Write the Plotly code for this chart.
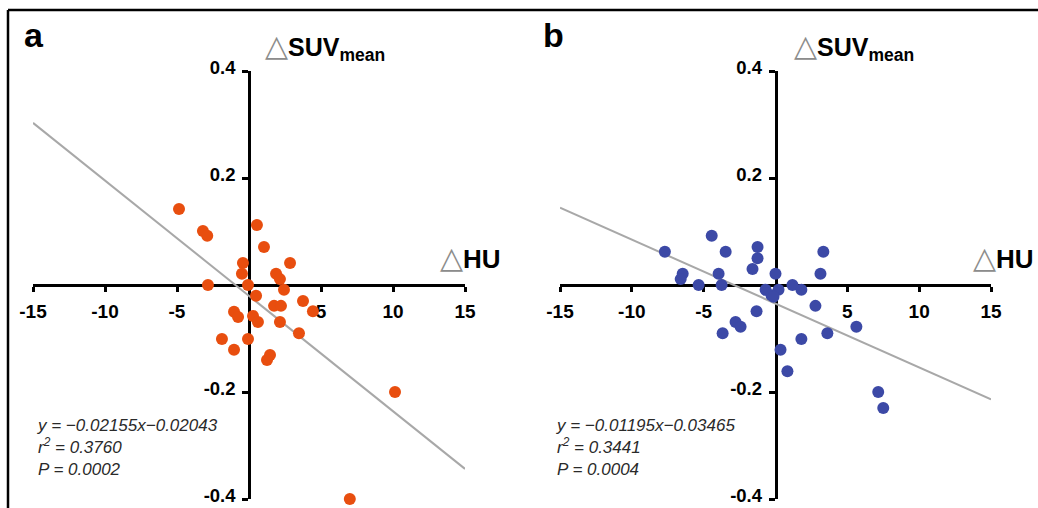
import plotly.graph_objects as go

W, H = 1038, 508

# ---- data ----
a_x = [-4.86, -3.2, -2.9, 0.55, 1.04, -0.42, 2.85, -0.49, 1.88, 2.15, -2.85, -0.07, 2.43, 0.49,
       3.75, 1.74, 2.22, 4.44, -1.04, -0.76, 0.28, 0.62, 2.15, 3.47, -1.88, -0.07, -1.04, 1.46,
       1.25, 10.14, 7.0]
a_y = [0.142, 0.101, 0.092, 0.112, 0.071, 0.041, 0.041, 0.021, 0.021, 0.011, 0.0, 0.0, -0.009,
       -0.02, -0.03, -0.039, -0.039, -0.049, -0.05, -0.06, -0.058, -0.069, -0.069, -0.09, -0.101,
       -0.101, -0.121, -0.131, -0.14, -0.2, -0.4]

b_x = [-4.44, -1.25, -7.7, -3.47, 3.33, -1.25, -1.6, 3.13, 0.0, -6.46, -6.6, -3.96, -5.35, -3.75,
       1.18, 1.8, -0.69, 0.21, -0.28, -0.14, 2.78, -1.32, -2.78, -2.43, 5.63, -3.68, 3.61, 1.8,
       0.35, 0.83, 7.15, 7.5]
b_y = [0.092, 0.071, 0.062, 0.062, 0.062, 0.05, 0.03, 0.021, 0.021, 0.021, 0.011, 0.021, 0.0, 0.0,
       0.0, -0.009, -0.009, -0.009, -0.019, -0.022, -0.039, -0.049, -0.069, -0.078, -0.078, -0.09,
       -0.09, -0.101, -0.121, -0.161, -0.2, -0.23]

fit_x = [-15, 15]
fit_a_y = [0.3030, -0.3437]
fit_b_y = [0.1446, -0.2139]

x_ticks = [-15, -10, -5, 5, 10, 15]
x_tick_text = ["-15", "-10", "-5", "5", "10", "15"]
y_ticks = [0.4, 0.2, -0.2, -0.4]
y_tick_text = ["0.4", "0.2", "-0.2", "-0.4"]

stats_a = ["y = \u22120.02155x\u22120.02043", "r<sup>2</sup> = 0.3760", "P = 0.0002"]
stats_b = ["y = \u22120.01195x\u22120.03465", "r<sup>2</sup> = 0.3441", "P = 0.0004"]

ORANGE = "#E84E0F"
BLUE = "#3C49A6"
FIT = "#A8A8A8"
FONT = "Liberation Sans, Arial, DejaVu Sans, sans-serif"

def px_x(p):
    return p / W

def px_y(p):
    return 1 - p / H

dom_a = [px_x(33), px_x(465)]
dom_b = [px_x(560), px_x(991)]
dom_y = [px_y(499), px_y(71)]

fig = go.Figure()

fig.add_trace(go.Scatter(x=fit_x, y=fit_a_y, mode="lines", line=dict(color=FIT, width=2),
                         xaxis="x", yaxis="y", showlegend=False, hoverinfo="skip"))
fig.add_trace(go.Scatter(x=a_x, y=a_y, mode="markers", marker=dict(color=ORANGE, size=12),
                         xaxis="x", yaxis="y", showlegend=False, cliponaxis=False))
fig.add_trace(go.Scatter(x=fit_x, y=fit_b_y, mode="lines", line=dict(color=FIT, width=2),
                         xaxis="x2", yaxis="y2", showlegend=False, hoverinfo="skip"))
fig.add_trace(go.Scatter(x=b_x, y=b_y, mode="markers", marker=dict(color=BLUE, size=12),
                         xaxis="x2", yaxis="y2", showlegend=False, cliponaxis=False))

def xaxis_cfg(dom):
    return dict(domain=dom, range=[-15, 15], anchor="free",
                position=(dom_y[0] + dom_y[1]) / 2, automargin=False,
                showline=True, linecolor="black", linewidth=2.5, layer="below traces",
                ticks="outside", ticklen=5, tickwidth=2.5, tickcolor="black",
                tickvals=x_ticks, ticktext=x_tick_text, ticklabelstandoff=3,
                ticklabeloverflow="allow",
                tickfont=dict(family=FONT, size=19, color="black", weight="bold"),
                showgrid=False, zeroline=False, fixedrange=True)

def yaxis_cfg(dom_x):
    return dict(domain=dom_y, range=[-0.4, 0.4], anchor="free",
                position=(dom_x[0] + dom_x[1]) / 2, automargin=False,
                showline=True, linecolor="black", linewidth=2.5, layer="below traces",
                ticks="outside", ticklen=6, tickwidth=2.5, tickcolor="black",
                tickvals=y_ticks, ticktext=y_tick_text, ticklabelstandoff=3,
                ticklabelshift=-3, ticklabeloverflow="allow",
                tickfont=dict(family=FONT, size=18.5, color="black", weight="bold"),
                showgrid=False, zeroline=False, fixedrange=True)

fig.update_layout(
    width=W, height=H, margin=dict(l=0, r=0, t=0, b=0, autoexpand=False),
    paper_bgcolor="white", plot_bgcolor="white",
    xaxis=xaxis_cfg(dom_a),
    yaxis=yaxis_cfg(dom_a),
    xaxis2=xaxis_cfg(dom_b),
    yaxis2=yaxis_cfg(dom_b),
    showlegend=False,
)

tri = '<span style="color:#8c8c8c;font-family:DejaVu Sans;font-size:30px">\u25B3</span>'
annotations = []
for lbl, xl, xax, xs_suv, xs_hu in [("a", 22, "x", 14, -27), ("b", 541, "x2", 16, -20)]:
    annotations.append(dict(text="<b>%s</b>" % lbl, x=px_x(xl), y=px_y(14), xref="paper", yref="paper",
                            xanchor="left", yanchor="top", showarrow=False,
                            font=dict(family=FONT, size=34, color="black")))
    annotations.append(dict(text=tri + "<b>SUV</b><sub><b>mean</b></sub>",
                            x=0, y=0.4, xref=xax, yref=xax.replace("x", "y"),
                            xanchor="left", yanchor="bottom", xshift=xs_suv, yshift=4,
                            showarrow=False, font=dict(family=FONT, size=25, color="black")))
    annotations.append(dict(text=tri + "<b>HU</b>", x=15, y=0, xref=xax, yref=xax.replace("x", "y"),
                            xanchor="left", yanchor="bottom", xshift=xs_hu, yshift=8,
                            showarrow=False, font=dict(family=FONT, size=26, color="black")))
for stats, xax, xs in [(stats_a, "x", 2), (stats_b, "x2", -6)]:
    annotations.append(dict(text="<br>".join("<i>%s</i>" % s for s in stats),
                            x=-15, y=-0.4, xref=xax, yref=xax.replace("x", "y"),
                            xanchor="left", yanchor="bottom", xshift=xs, yshift=18, align="left",
                            showarrow=False, font=dict(family=FONT, size=17, color="#2a2a2a")))
fig.update_layout(annotations=annotations)

fig.add_shape(type="line", xref="paper", yref="paper", x0=px_x(8), x1=1, y0=px_y(10), y1=px_y(10),
              line=dict(color="black", width=2.5))
fig.add_shape(type="line", xref="paper", yref="paper", x0=px_x(8), x1=px_x(8), y0=px_y(10), y1=0,
              line=dict(color="black", width=2.5))

fig.write_html("out.html")
